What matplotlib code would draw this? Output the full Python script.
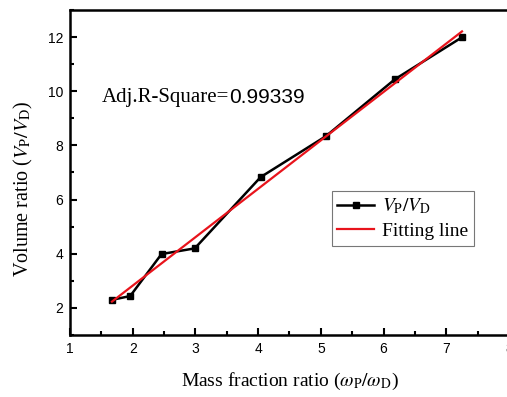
import numpy as np
import matplotlib
matplotlib.use("Agg")
import matplotlib.pyplot as plt
from matplotlib.ticker import MultipleLocator

# values
mass_ratio = [1.67, 1.96, 2.46, 2.99, 4.04, 5.08, 6.18, 7.25]
volume_ratio = [2.30, 2.44, 3.99, 4.20, 6.83, 8.34, 10.44, 11.99]
adj_r2 = "0.99339"

plt.rcParams['mathtext.fontset'] = 'stix'
serif = 'Liberation Serif'
sans = 'Liberation Sans'

fig = plt.figure(figsize=(5.07, 3.97), dpi=100)
ax = fig.add_axes([0.138, 0.156, 0.866, 0.819])

ax.plot(mass_ratio, volume_ratio, color='black', lw=1.8, marker='s', ms=5,
        label=r'$\mathit{V}_{\mathrm{P}}/\mathit{V}_{\mathrm{D}}$')

# linear fit
k, b = np.polyfit(mass_ratio, volume_ratio, 1)
xf = np.array([mass_ratio[0], mass_ratio[-1]])
ax.plot(xf, k * xf + b, color='#e8141c', lw=1.6, label='Fitting line')

ax.set_xlim(1, 8)
ax.set_ylim(1, 13)
ax.xaxis.set_major_locator(MultipleLocator(1))
ax.xaxis.set_minor_locator(MultipleLocator(0.5))
ax.yaxis.set_major_locator(MultipleLocator(2))
ax.yaxis.set_minor_locator(MultipleLocator(1))
ax.tick_params(which='both', direction='in', width=1.5, labelsize=10)
ax.tick_params(which='major', length=5, pad=5)
ax.tick_params(which='minor', length=3)
for lab in ax.get_xticklabels() + ax.get_yticklabels():
    lab.set_family(sans)
for s in ax.spines.values():
    s.set_linewidth(1.8)

ax.set_xlabel(r'Mass fraction ratio ($\omega_{\mathrm{P}}/\omega_{\mathrm{D}}$)',
              family=serif, fontsize=14, labelpad=11)
ax.set_ylabel(r'Volume ratio ($\mathit{V}_{\mathrm{P}}/\mathit{V}_{\mathrm{D}}$)',
              family=serif, fontsize=14.5)
ax.yaxis.set_label_coords(-0.08, 0.45)

t1 = ax.text(1.5, 9.75, 'Adj.R-Square=', family=serif, fontsize=15, va='center')
ax.annotate(adj_r2, xy=(1, 0.5), xycoords=t1, va='center', ha='left',
            family=sans, fontsize=15)

leg = ax.legend(loc='upper left', bbox_to_anchor=(0.596, 0.444),
                prop={'family': serif, 'size': 14},
                frameon=True, fancybox=False, handlelength=1.9, handletextpad=0.4,
                borderpad=0.3, labelspacing=0.3, borderaxespad=0)
leg.get_frame().set_edgecolor('#555555')
leg.get_frame().set_linewidth(0.8)

fig.savefig('out.png', dpi=100)
